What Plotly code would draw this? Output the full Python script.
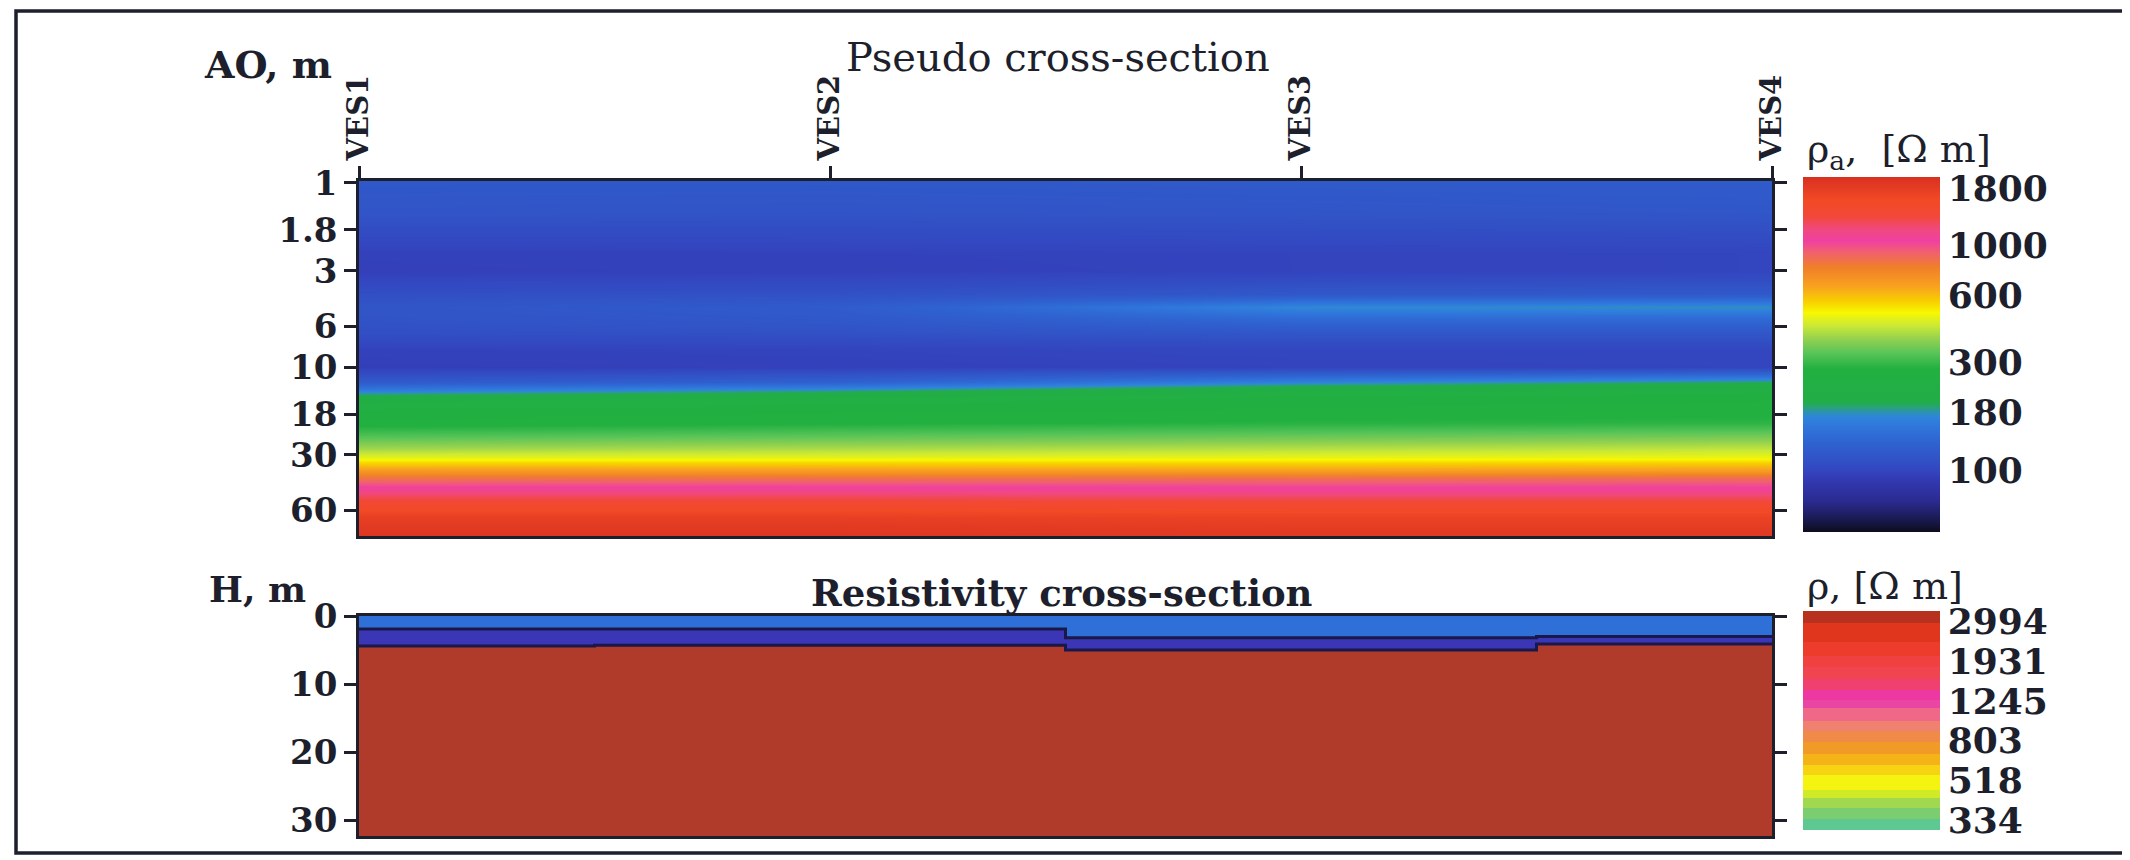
import numpy as np
import plotly.graph_objects as go

# ---------------- data ----------------
ves_names = ["VES1", "VES2", "VES3", "VES4"]
ves_pos = [0, 1, 2, 3]

# apparent resistivity (Ohm m) vs AO (m) for each sounding
ao_values = [1, 1.4, 1.8, 2.4, 3, 4, 4.7, 5.5, 6.5, 8, 10, 12, 13.5, 15, 17, 20,
             24, 28, 31, 33, 36, 40, 46, 55, 65, 80]
rho_ves1 = [118, 115, 106, 96, 95, 108, 114, 112, 108, 97, 94, 122, 168, 230, 255, 270,
            330, 400, 480, 560, 680, 850, 1100, 1450, 1750, 1900]
rho_ves2 = [118, 114, 106, 97, 96, 110, 122, 118, 110, 98, 96, 130, 190, 245, 262, 280,
            340, 410, 480, 560, 670, 860, 1100, 1450, 1750, 1900]
rho_ves3 = [120, 115, 107, 98, 98, 118, 175, 140, 116, 100, 98, 170, 240, 260, 268, 288,
            350, 420, 485, 560, 660, 870, 1080, 1420, 1700, 1850]
rho_ves4 = [122, 117, 108, 99, 99, 120, 180, 140, 116, 100, 99, 195, 250, 265, 272, 292,
            360, 430, 490, 570, 670, 880, 1080, 1420, 1700, 1850]

ao_ticks = [1, 1.8, 3, 6, 10, 18, 30, 60]
ao_ticklabels = ["1", "1.8", "3", "6", "10", "18", "30", "60"]
ao_limits = [0.98, 82.5]
rho_a_ticks = [100, 180, 300, 600, 1000, 1800]
rho_a_limits = [53, 2015]

# layered resistivity model
segment_edges = [0, 0.5, 1.5, 2.5, 3]
layer1_bottom = [1.9, 1.9, 3.2, 3.0]
layer2_bottom = [4.4, 4.3, 5.0, 4.1]
rho_layer1 = [155, 155, 160, 160]
rho_layer2 = [80, 80, 80, 80]
rho_layer3 = [2994, 2994, 2994, 2994]
model_depth = 32.3
depth_ticks = [0, 10, 20, 30]
rho_ticks = [334, 518, 803, 1245, 1931, 2994]
rho_limits = [299, 3377]

# ---------------- styling ----------------
OFF = 8                      # default page body margin of the html
W, H = 2130 - OFF, 860 - OFF
FONT = "DejaVu Serif"
INK = "#1d1f2c"


def px(x):
    return (x - OFF) / W


def py(y):
    return 1 - (y - OFF) / H


lmin, lmax = np.log10(rho_a_limits[0]), np.log10(rho_a_limits[1])
top_stops = [
    (1.724, "#0c0c1e"), (1.78, "#1a1a50"), (1.86, "#2a2a90"), (1.95, "#3238b0"),
    (2.00, "#3346c0"), (2.05, "#3153c6"), (2.12, "#2f62d0"), (2.20, "#2f78dc"),
    (2.24, "#2f86d8"), (2.27, "#2a9c90"), (2.30, "#22ad48"), (2.45, "#22b040"),
    (2.52, "#58c458"), (2.58, "#90d050"), (2.64, "#c8e838"), (2.70, "#f8f800"),
    (2.75, "#f8d000"), (2.82, "#f8a020"), (2.90, "#f08028"), (2.97, "#f06070"),
    (3.02, "#f040a0"), (3.07, "#f04880"), (3.13, "#f24838"), (3.20, "#f24a26"),
    (3.304, "#d83020"),
]
top_scale = [[min(max((v - lmin) / (lmax - lmin), 0), 1), c] for v, c in top_stops]
top_scale[0][0] = 0.0
top_scale[-1][0] = 1.0

bmin, bmax = np.log10(rho_limits[0]), np.log10(rho_limits[1])
band_stops = [
    (2.476, 2.53, "#5ec892"), (2.53, 2.58, "#7ccc70"), (2.58, 2.63, "#a0d850"),
    (2.63, 2.67, "#d0ea28"), (2.67, 2.74, "#f4f410"), (2.74, 2.79, "#f6d414"),
    (2.79, 2.84, "#f4b418"), (2.84, 2.90, "#f29a28"), (2.90, 2.95, "#f08a48"),
    (2.95, 3.00, "#f08070"), (3.00, 3.06, "#f06888"), (3.06, 3.10, "#ea44a4"),
    (3.10, 3.15, "#ec38a0"), (3.15, 3.20, "#f04070"), (3.20, 3.26, "#f04450"),
    (3.26, 3.31, "#f04040"), (3.31, 3.38, "#ee3c2c"), (3.38, 3.47, "#e0361e"),
    (3.47, 3.528, "#b8301e"),
]
band_scale = []
for a, b, c in band_stops:
    band_scale.append([min(max((a - bmin) / (bmax - bmin), 0), 1), c])
    band_scale.append([min(max((b - bmin) / (bmax - bmin), 0), 1), c])
band_scale[0][0] = 0.0
band_scale[-1][0] = 1.0

model_cmin, model_cmax = np.log10(60), np.log10(2994)


def mnorm(v):
    return (np.log10(v) - model_cmin) / (model_cmax - model_cmin)


model_scale = [
    [0.0, "#3a36b6"], [mnorm(95), "#3a36b6"], [mnorm(130), "#2f6fd8"],
    [mnorm(200), "#2f6fd8"], [mnorm(500), "#f0e020"], [mnorm(1500), "#e04030"],
    [1.0, "#b03b2a"],
]

# ---------------- figure ----------------
fig = go.Figure()

z_top = np.log10(np.array([rho_ves1, rho_ves2, rho_ves3, rho_ves4]).T)
fig.add_trace(go.Heatmap(
    x=ves_pos, y=np.log10(ao_values), z=z_top,
    zsmooth="best", colorscale=top_scale, zmin=lmin, zmax=lmax,
    xaxis="x", yaxis="y",
    colorbar=dict(
        x=px(1803), xanchor="left", y=py(177), yanchor="top",
        len=355 / H, lenmode="fraction", thickness=137, thicknessmode="pixels",
        xpad=0, ypad=0, outlinewidth=0,
        tickvals=np.log10(rho_a_ticks), ticktext=[str(t) for t in rho_a_ticks],
        ticks="", ticklabelposition="outside right",
        tickfont=dict(family=FONT, size=36, color=INK, weight="bold"),
    ),
))

# layered model as heatmap cells
depth_edges = sorted(set([0.0] + layer1_bottom + layer2_bottom + [model_depth]))
z_model = []
for i in range(len(depth_edges) - 1):
    mid = 0.5 * (depth_edges[i] + depth_edges[i + 1])
    row = []
    for j in range(len(ves_names)):
        if mid < layer1_bottom[j]:
            row.append(np.log10(rho_layer1[j]))
        elif mid < layer2_bottom[j]:
            row.append(np.log10(rho_layer2[j]))
        else:
            row.append(np.log10(rho_layer3[j]))
    z_model.append(row)

fig.add_trace(go.Heatmap(
    x=segment_edges, y=depth_edges, z=z_model, zsmooth=False,
    colorscale=model_scale, zmin=model_cmin, zmax=model_cmax, showscale=False,
    xaxis="x2", yaxis="y2",
))

for bnd in (layer1_bottom, layer2_bottom):
    fig.add_trace(go.Scatter(
        x=segment_edges, y=bnd + [bnd[-1]], mode="lines", line_shape="hv",
        line=dict(color="#1a1848", width=3), xaxis="x2", yaxis="y2",
        showlegend=False, hoverinfo="skip",
    ))

# colorbar for the model resistivity
fig.add_trace(go.Scatter(
    x=[None], y=[None], mode="markers", xaxis="x2", yaxis="y2", showlegend=False,
    marker=dict(
        color=[np.log10(rho_ticks[0])], colorscale=band_scale, cmin=bmin, cmax=bmax,
        showscale=True,
        colorbar=dict(
            x=px(1803), xanchor="left", y=py(611), yanchor="top",
            len=219 / H, lenmode="fraction", thickness=137, thicknessmode="pixels",
            xpad=0, ypad=0, outlinewidth=0,
            tickvals=np.log10(rho_ticks), ticktext=[str(t) for t in rho_ticks],
            ticks="", ticklabelposition="outside right",
            tickfont=dict(family=FONT, size=36, color=INK, weight="bold"),
        ),
    ),
))

axis_common = dict(showgrid=False, zeroline=False, linecolor=INK, linewidth=2.5,
                   showline=True, tickcolor=INK, tickwidth=2.5, ticklen=12)
tickfont = dict(family=FONT, size=34, color=INK, weight="bold")

fig.update_layout(
    width=W, height=H,
    margin=dict(l=0, r=0, t=0, b=0),
    paper_bgcolor="white", plot_bgcolor="white",
    showlegend=False,
    font=dict(family=FONT, color=INK),
    xaxis=dict(domain=[px(359), px(1772)], range=[0, 3], side="top", anchor="y",
               tickvals=ves_pos, ticktext=ves_names, tickangle=-90, ticks="outside",
               mirror=True, tickfont=dict(family=FONT, size=29, color=INK, weight="bold"),
               automargin=False, **axis_common),
    yaxis=dict(domain=[py(536), py(181)], anchor="x",
               range=[np.log10(ao_limits[1]), np.log10(ao_limits[0])],
               tickvals=np.log10(ao_ticks), ticktext=ao_ticklabels, ticks="outside",
               mirror="ticks", tickfont=tickfont, automargin=False, **axis_common),
    xaxis2=dict(domain=[px(359), px(1772)], range=[0, 3], anchor="y2",
                showticklabels=False, ticks="", mirror=True, automargin=False,
                **axis_common),
    yaxis2=dict(domain=[py(836), py(616)], anchor="x2", range=[model_depth, 0],
                tickvals=depth_ticks, ticks="outside", mirror="ticks",
                tickfont=tickfont, automargin=False, **axis_common),
    shapes=[dict(type="rect", xref="paper", yref="paper",
                 x0=px(16), x1=1.02, y0=py(853), y1=py(11),
                 line=dict(color=INK, width=3.5), fillcolor="rgba(0,0,0,0)")],
    annotations=[
        dict(text="AO, m", x=px(334), y=py(64), xref="paper", yref="paper",
             xanchor="right", yanchor="middle", showarrow=False,
             font=dict(family=FONT, size=38, color=INK, weight="bold")),
        dict(text="Pseudo cross-section", x=px(1058), y=py(57), xref="paper",
             yref="paper", xanchor="center", yanchor="middle", showarrow=False,
             font=dict(family=FONT, size=40, color=INK)),
        dict(text="H, m", x=px(308), y=py(589), xref="paper", yref="paper",
             xanchor="right", yanchor="middle", showarrow=False,
             font=dict(family=FONT, size=36, color=INK, weight="bold")),
        dict(text="Resistivity cross-section", x=px(1062), y=py(593), xref="paper",
             yref="paper", xanchor="center", yanchor="middle", showarrow=False,
             font=dict(family=FONT, size=37, color=INK, weight="bold")),
        dict(text="ρ<sub>a</sub>,  [Ω m]", x=px(1805), y=py(151), xref="paper",
             yref="paper", xanchor="left", yanchor="middle", showarrow=False,
             font=dict(family=FONT, size=38, color=INK)),
        dict(text="ρ, [Ω m]", x=px(1805), y=py(586), xref="paper", yref="paper",
             xanchor="left", yanchor="middle", showarrow=False,
             font=dict(family=FONT, size=38, color=INK)),
    ],
)

fig.write_html("out.html")
